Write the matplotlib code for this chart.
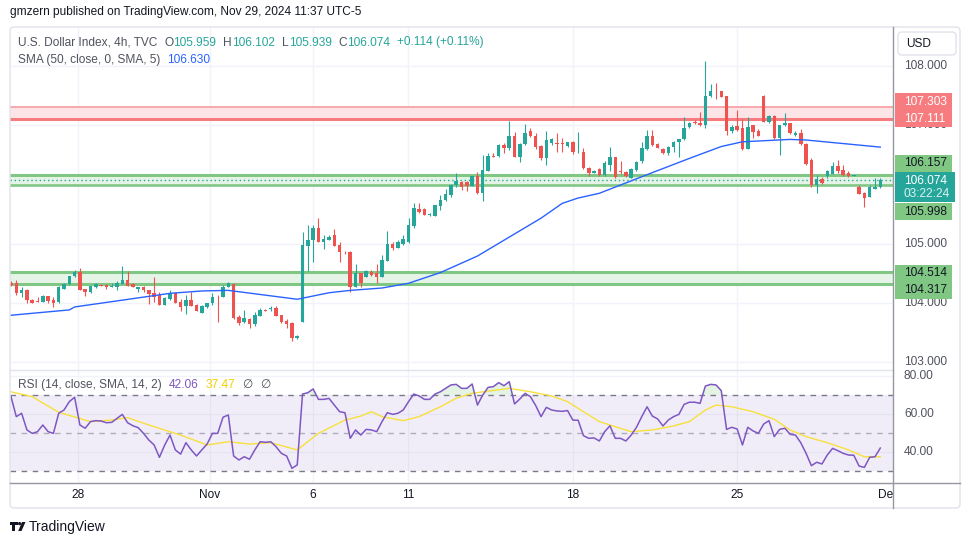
import matplotlib.pyplot as plt
import numpy as np
from matplotlib.patches import Rectangle, FancyBboxPatch, Polygon, Circle

plt.rcParams['font.family'] = ['Liberation Sans', 'DejaVu Sans']

# ---- 4h candles, U.S. Dollar Index ----
opens = [104.34, 104.33, 104.16, 104.22, 104.05, 104.03, 104.02, 104.12, 104.05, 104.01,
         104.24, 104.31, 104.45, 104.52, 104.23, 104.19, 104.26, 104.30, 104.30, 104.27,
         104.27, 104.32, 104.39, 104.32, 104.23, 104.27, 104.22, 104.17, 104.13, 103.97,
         104.06, 104.16, 104.02, 103.95, 104.05, 103.96, 103.83, 103.93, 103.99, 104.10,
         104.09, 104.26, 104.32, 103.76, 103.68, 103.73, 103.64, 103.78, 103.88, 103.89,
         103.92, 103.79, 103.70, 103.66, 103.40, 103.68, 104.96, 105.06, 105.27, 105.03,
         105.06, 105.15, 104.98, 104.86, 104.85, 104.27, 104.50, 104.43, 104.52, 104.50,
         104.44, 104.71, 105.00, 104.93, 104.99, 105.02, 105.30, 105.58, 105.58, 105.48,
         105.47, 105.63, 105.73, 105.82, 105.99, 106.04, 106.04, 105.98, 106.14, 105.85,
         106.23, 106.48, 106.48, 106.67, 106.62, 106.82, 106.46, 106.68, 106.90, 106.82,
         106.65, 106.44, 106.70, 106.70, 106.70, 106.65, 106.71, 106.54, 106.54, 106.27,
         106.20, 106.26, 106.16, 106.33, 106.46, 106.22, 106.21, 106.11, 106.24, 106.39,
         106.60, 106.82, 106.68, 106.60, 106.53, 106.64, 106.71, 106.76, 106.97, 107.06,
         107.04, 107.00, 107.49, 107.58, 107.57, 107.49, 106.91, 106.99, 106.95, 106.59,
         107.00, 106.91, 107.49, 107.06, 107.16, 106.78, 107.00, 107.03, 106.83, 106.86,
         106.69, 106.42, 105.99, 106.09, 106.14, 106.18, 106.31, 106.24, 106.20, 106.14,
         105.95, 105.86, 105.79, 105.93, 105.959]
highs = [104.36, 104.39, 104.26, 104.23, 104.06, 104.09, 104.13, 104.12, 104.09, 104.28,
         104.34, 104.46, 104.55, 104.58, 104.24, 104.28, 104.34, 104.31, 104.31, 104.34,
         104.36, 104.62, 104.54, 104.34, 104.27, 104.28, 104.22, 104.44, 104.19, 104.10,
         104.21, 104.18, 104.06, 104.13, 104.18, 103.98, 103.96, 104.00, 104.16, 104.13,
         104.30, 104.35, 104.33, 103.79, 103.88, 103.75, 103.85, 103.91, 103.89, 103.95,
         103.94, 103.80, 103.72, 103.67, 103.45, 105.20, 105.31, 105.31, 105.43, 105.15,
         105.14, 105.25, 105.03, 104.88, 104.88, 104.66, 104.51, 104.56, 104.55, 104.66,
         104.80, 105.21, 105.02, 105.06, 105.15, 105.43, 105.69, 105.69, 105.60, 105.51,
         105.66, 105.82, 105.92, 106.01, 106.19, 106.06, 106.06, 106.15, 106.21, 106.50,
         106.53, 106.53, 106.69, 106.70, 107.07, 106.89, 106.70, 107.02, 106.96, 106.86,
         106.67, 106.90, 106.78, 106.86, 106.78, 106.72, 106.73, 106.89, 106.61, 106.29,
         106.24, 106.27, 106.40, 106.64, 106.47, 106.39, 106.22, 106.27, 106.40, 106.72,
         106.92, 106.92, 106.70, 106.62, 106.65, 106.74, 106.77, 107.14, 107.05, 107.08,
         107.23, 108.08, 107.70, 107.72, 107.58, 107.49, 107.00, 107.26, 107.10, 107.14,
         107.01, 106.93, 107.51, 107.17, 107.17, 107.01, 107.20, 107.04, 106.90, 106.93,
         106.70, 106.44, 106.16, 106.13, 106.25, 106.38, 106.41, 106.32, 106.23, 106.16,
         105.99, 105.87, 105.99, 106.10, 106.102]
lows = [104.28, 104.13, 104.10, 104.00, 103.99, 104.01, 104.01, 103.99, 103.93, 103.99,
        104.24, 104.30, 104.44, 104.22, 104.12, 104.16, 104.25, 104.28, 104.23, 104.26,
        104.21, 104.31, 104.29, 104.26, 104.19, 104.19, 103.98, 104.02, 103.97, 103.96,
        104.05, 103.99, 103.86, 103.81, 103.94, 103.86, 103.83, 103.92, 103.97, 103.68,
        104.09, 104.26, 103.72, 103.63, 103.66, 103.57, 103.60, 103.78, 103.86, 103.86,
        103.78, 103.66, 103.57, 103.36, 103.39, 103.67, 104.53, 104.69, 105.02, 104.91,
        105.06, 104.96, 104.69, 104.83, 104.19, 104.26, 104.27, 104.43, 104.45, 104.33,
        104.44, 104.70, 104.90, 104.92, 104.98, 105.01, 105.26, 105.51, 105.48, 105.46,
        105.46, 105.57, 105.72, 105.79, 105.96, 105.91, 105.89, 105.97, 105.84, 105.72,
        106.23, 106.46, 106.46, 106.53, 106.58, 106.46, 106.38, 106.67, 106.80, 106.59,
        106.42, 106.33, 106.67, 106.55, 106.55, 106.64, 106.52, 106.53, 106.26, 106.14,
        106.19, 106.14, 106.14, 106.23, 106.10, 106.18, 106.13, 106.10, 106.22, 106.37,
        106.58, 106.65, 106.61, 106.51, 106.50, 106.55, 106.47, 106.75, 106.96, 107.02,
        106.99, 106.95, 107.48, 107.45, 107.47, 106.84, 106.86, 106.91, 106.58, 106.59,
        106.78, 106.81, 107.05, 107.04, 106.77, 106.50, 106.98, 106.85, 106.81, 106.66,
        106.33, 105.95, 105.86, 106.01, 106.10, 106.17, 106.20, 106.14, 106.13, 106.14,
        105.83, 105.62, 105.78, 105.92, 105.939]
closes = [104.30, 104.16, 104.22, 104.04, 104.00, 104.02, 104.12, 104.03, 104.00, 104.26,
          104.32, 104.45, 104.52, 104.22, 104.18, 104.28, 104.31, 104.29, 104.27, 104.29,
          104.34, 104.39, 104.29, 104.26, 104.27, 104.21, 104.15, 104.10, 103.97, 104.08,
          104.16, 104.00, 103.93, 104.05, 103.95, 103.87, 103.95, 103.99, 104.10, 104.09,
          104.27, 104.33, 103.74, 103.66, 103.74, 103.64, 103.79, 103.88, 103.87, 103.91,
          103.78, 103.68, 103.64, 103.40, 103.44, 104.97, 105.06, 105.27, 105.03, 105.08,
          105.12, 104.96, 104.85, 104.85, 104.27, 104.50, 104.33, 104.53, 104.47, 104.44,
          104.72, 104.99, 104.92, 105.02, 105.07, 105.31, 105.60, 105.54, 105.48, 105.49,
          105.65, 105.74, 105.84, 105.99, 106.05, 105.96, 105.98, 106.14, 105.85, 106.24,
          106.48, 106.47, 106.67, 106.61, 106.82, 106.46, 106.69, 106.86, 106.81, 106.64,
          106.44, 106.75, 106.76, 106.69, 106.68, 106.71, 106.54, 106.55, 106.27, 106.20,
          106.23, 106.16, 106.36, 106.46, 106.13, 106.21, 106.14, 106.26, 106.38, 106.61,
          106.82, 106.67, 106.62, 106.53, 106.64, 106.72, 106.76, 106.96, 107.03, 107.03,
          107.00, 107.49, 107.58, 107.57, 107.48, 106.91, 106.97, 106.92, 106.59, 106.97,
          106.89, 106.82, 107.06, 107.16, 106.78, 107.00, 107.04, 106.86, 106.86, 106.68,
          106.34, 105.99, 106.09, 106.02, 106.23, 106.31, 106.23, 106.16, 106.14, 106.15,
          105.84, 105.77, 105.95, 105.96, 106.074]

# SMA(50) line, read at a few candle positions
sma_idx = [0, 11, 12, 30, 36, 41, 54, 60, 64, 70, 75, 81, 88, 100, 104, 107, 111, 119, 128, 134, 138, 147, 150, 164]
sma_vals = [103.79, 103.88, 103.93, 104.16, 104.20, 104.21, 104.06, 104.17, 104.21, 104.25, 104.33, 104.51,
            104.79, 105.43, 105.68, 105.77, 105.85, 106.13, 106.44, 106.64, 106.72, 106.76, 106.75, 106.63]

# RSI(14), one value per candle
rsi = [69.1, 58.6, 60.4, 51.6, 49.8, 50.7, 54.2, 50.7, 49.8, 60.4,
       62.1, 66.5, 68.8, 54.2, 52.5, 56.0, 56.5, 56.3, 55.4, 55.6,
       57.7, 59.8, 55.4, 53.8, 52.8, 49.8, 46.3, 43.7, 37.2, 43.7,
       48.9, 41.1, 38.9, 44.9, 41.1, 37.9, 41.1, 44.2, 49.8, 49.8,
       58.3, 59.5, 37.9, 35.8, 37.5, 36.2, 41.1, 45.4, 45.1, 45.4,
       42.8, 39.3, 37.9, 31.4, 33.2, 70.5, 71.2, 73.2, 67.7, 67.7,
       68.2, 64.7, 61.2, 60.7, 47.2, 51.6, 48.9, 51.9, 51.6, 50.7,
       56.0, 60.7, 59.8, 60.4, 62.1, 66.5, 70.5, 69.5, 67.7, 67.7,
       70.5, 71.7, 73.5, 75.3, 75.6, 73.5, 73.5, 75.8, 64.7, 70.0,
       74.0, 74.4, 76.5, 74.9, 77.0, 65.3, 67.9, 70.9, 69.1, 64.4,
       58.6, 63.5, 62.1, 61.6, 61.4, 61.8, 56.8, 56.7, 48.6, 47.2,
       47.4, 45.8, 50.7, 53.8, 47.2, 47.2, 45.8, 48.9, 53.0, 58.6,
       63.8, 58.9, 57.4, 53.7, 56.8, 58.6, 59.8, 65.1, 66.2, 66.2,
       65.6, 74.7, 75.6, 75.3, 72.3, 51.9, 53.0, 52.1, 43.7, 53.0,
       51.1, 49.8, 54.7, 56.5, 48.1, 51.9, 52.5, 49.3, 48.9, 44.9,
       39.3, 32.8, 34.6, 33.7, 38.4, 41.9, 40.7, 39.3, 38.4, 38.3,
       32.6, 31.9, 37.2, 37.5, 42.06]

# RSI-based MA, read at a few candle positions
rsi_ma_idx = [0, 4, 9, 15, 19, 22, 26, 32, 37, 41, 45, 49, 54, 58, 63, 66, 68, 70, 74, 77, 81, 84,
              87, 94, 98, 102, 105, 108, 111, 114, 117, 121, 125, 128, 131, 133, 136, 140, 144,
              147, 150, 154, 158, 161, 164]
rsi_ma_vals = [71.7, 69.1, 60.9, 56.0, 56.8, 58.1, 54.2, 48.9, 43.7, 45.4, 44.2, 44.9, 41.1, 49.8,
               56.8, 58.9, 61.2, 58.6, 56.5, 58.6, 63.8, 68.3, 70.9, 73.5, 71.7, 69.5, 66.5, 61.2,
               56.0, 53.3, 50.7, 51.6, 53.7, 56.0, 62.1, 64.7, 63.8, 61.2, 57.2, 51.6, 48.1, 44.9,
               41.1, 37.5, 37.47]

date_ticks = [12.6, 37.5, 57.0, 74.9, 106.0, 137.0]
date_labels = ['28', 'Nov', '6', '11', '18', '25']
price_ticks = [108, 107, 106, 105, 104, 103]
price_labels = [108, 107, 105, 104, 103]   # 106.000 sits fully under the last-price tag
rsi_ticks = [80, 60, 40]

red_zone = (107.111, 107.303)
green_zone = (105.998, 106.157)
green_zone_low = (104.317, 104.514)
last_price = 106.074
change, change_pct = 0.114, 0.11
countdown = '03:22:24'
sma_last = 106.630
rsi_last, rsi_ma_last = 42.06, 37.47

UP, DOWN = '#26a69a', '#ef5350'
RED_LINE, GREEN_LINE = '#f77c80', '#81c784'
GRID = '#f0f3fa'
TXT = '#131722'
GRAY = '#50535e'
FS = 8.6

W, H = 970, 545
fig = plt.figure(figsize=(W / 100, H / 100), dpi=100)


def box(x0, y0, x1, y1):
    return [x0 / W, 1 - y1 / H, (x1 - x0) / W, (y1 - y0) / H]


ax = fig.add_axes(box(10, 27, 893, 370))
rax = fig.add_axes(box(10, 370, 893, 483), sharex=ax)
for a in (ax, rax):
    for s in a.spines.values():
        s.set_visible(False)
    a.tick_params(length=0, labelleft=False, labelbottom=False)
    a.set_yticks([])
ax.set_xticks([])

o, h, l, c = map(np.array, (opens, highs, lows, closes))
idx = np.arange(len(c))
ax.set_xlim(-0.19, 166.4)
ax.set_ylim(102.865, 108.659)
rax.set_ylim(23.68, 83.16)

# grid
for p in price_ticks:
    ax.axhline(p, color=GRID, lw=1, zorder=0)
for v in rsi_ticks:
    rax.axhline(v, color=GRID, lw=1, zorder=0)
for t in date_ticks:
    ax.axvline(t, color=GRID, lw=1, zorder=0)
    rax.axvline(t, color=GRID, lw=1, zorder=0)

# zones
ax.axhspan(*red_zone, color='#fde4e6', lw=0, zorder=1)
ax.axhline(red_zone[1], color='#f5a3a7', lw=1.3, zorder=2)
ax.axhline(red_zone[0], color=RED_LINE, lw=2.2, zorder=2)
ax.axhspan(*green_zone, color='#e5f4e6', lw=0, zorder=1)
ax.axhline(green_zone[1], color=GREEN_LINE, lw=2.2, zorder=2)
ax.axhline(green_zone[0], color=GREEN_LINE, lw=1.2, zorder=2)
ax.axhline(green_zone[0] - 0.03, color=GREEN_LINE, lw=1.2, zorder=2)
ax.axhspan(*green_zone_low, color='#e5f4e6', lw=0, zorder=1)
ax.axhline(green_zone_low[0], color=GREEN_LINE, lw=2.2, zorder=2)
ax.axhline(green_zone_low[1], color=GREEN_LINE, lw=2.2, zorder=2)
ax.axhline(last_price, color=UP, lw=1, ls=(0, (1, 2)), zorder=2)

# candles
col = np.where(c >= o, UP, DOWN)
ax.vlines(idx, l, h, colors=col, lw=0.8, zorder=3)
ax.bar(idx, np.maximum(np.abs(c - o), 0.012), bottom=np.minimum(o, c), width=0.66,
       color=col, lw=0, zorder=4)

ax.plot(sma_idx, sma_vals, color='#2962ff', lw=1, zorder=5)

# RSI panel
r = np.array(rsi)
rax.axhspan(30, 70, color='#7e57c2', alpha=0.1, lw=0, zorder=0)
rax.fill_between(idx, r, 70, where=r > 70, interpolate=True, color='#4caf50', alpha=0.15, lw=0)
for v, al in ((70, 1), (50, 0.55), (30, 1)):
    rax.axhline(v, color='#787b86', lw=1, ls=(0, (4, 4)), alpha=al, zorder=1)
rax.plot(rsi_ma_idx, rsi_ma_vals, color='#f7e03c', lw=1, zorder=2)
rax.plot(idx, r, color='#7e57c2', lw=1.1, zorder=3)

# overlay in pixel coordinates for texts and frames
ov = fig.add_axes([0, 0, 1, 1])
ov.set_xlim(0, W)
ov.set_ylim(H, 0)
ov.axis('off')
ov.patch.set_visible(False)
renderer = fig.canvas.get_renderer()


def py(v, a=ax):
    return H - a.transData.transform((0, v))[1]


def px(i, a=ax):
    return a.transData.transform((i, 0))[0]


def row(x, y, groups, gap=7):
    # groups of (text, colour) pieces; pieces in a group touch, groups are spaced by gap
    for g in groups:
        for s, colr in g:
            t = ov.text(x, y, s, fontsize=FS, color=colr, va='center',
                        family=['Liberation Sans', 'DejaVu Sans'])
            x += t.get_window_extent(renderer).width
        x += gap


ov.add_patch(FancyBboxPatch((10, 27), 950, 481, boxstyle='round,pad=0,rounding_size=4',
                            fc='none', ec='#e0e3eb', lw=1))
ov.plot([10, 893], [370, 370], color='#e0e3eb', lw=1)
ov.plot([10, 960], [483, 483], color='#9598a1', lw=1)
ov.plot([893, 893], [27, 508], color='#9598a1', lw=1)

ov.text(10, 12, 'gmzern published on TradingView.com, Nov 29, 2024 11:37 UTC-5',
        fontsize=FS, color=TXT, va='center')
row(18, 42.5, [[('U.S. Dollar Index, 4h, TVC', GRAY)],
               [('O', GRAY), (f'{opens[-1]:.3f}', UP)],
               [('H', GRAY), (f'{highs[-1]:.3f}', UP)],
               [('L', GRAY), (f'{lows[-1]:.3f}', UP)],
               [('C', GRAY), (f'{closes[-1]:.3f}', UP)],
               [(f'+{change:.3f} (+{change_pct:.2f}%)', UP)]])
row(18, 60, [[('SMA (50, close, 0, SMA, 5)', GRAY)], [(f'{sma_last:.3f}', '#2962ff')]])
row(18, 385, [[('RSI (14, close, SMA, 14, 2)', GRAY)], [(f'{rsi_last:.2f}', '#7e57c2')],
              [(f'{rsi_ma_last:.2f}', '#f5d000')], [('∅', GRAY)], [('∅', GRAY)]])

# price scale
ov.add_patch(FancyBboxPatch((898, 32), 58, 23, boxstyle='round,pad=0,rounding_size=4',
                            fc='white', ec='#e0e3eb', lw=1))
ov.text(906, 44, 'USD', fontsize=FS, color=TXT, va='center')
for p in price_labels:
    ov.text(904, py(p), f'{p:.3f}', fontsize=FS, color=GRAY, va='center')
for v in rsi_ticks:
    ov.text(904, py(v, rax), f'{v:.2f}', fontsize=FS, color=GRAY, va='center')

tags = [([red_zone[1], red_zone[0]], [-5.6, 0], RED_LINE, 'white'),
        ([green_zone[1]], [-11.8], GREEN_LINE, TXT),
        ([green_zone[0]], [27.2], GREEN_LINE, TXT),
        ([green_zone_low[1], green_zone_low[0]], [1, 6], GREEN_LINE, TXT)]
for vals, offs, fc, tc in tags:
    ys = [py(v) + d for v, d in zip(vals, offs)]
    ov.add_patch(Rectangle((895, ys[0] - 8.5), 57, ys[-1] - ys[0] + 17, fc=fc, ec='none', zorder=3))
    for v, yy in zip(vals, ys):
        ov.text(904, yy, f'{v:.3f}', fontsize=FS, color=tc, va='center', zorder=4)
yl = py(last_price)
ov.add_patch(Rectangle((895, yl - 8), 60, 30, fc=UP, ec='none', zorder=3))
ov.text(904, yl + 0.5, f'{last_price:.3f}', fontsize=FS, color='white', va='center', zorder=4)
ov.text(904, yl + 14, countdown, fontsize=FS, color='#d9f2ef', va='center', zorder=4)

# time scale
for t, lab in zip(date_ticks, date_labels):
    ov.text(px(t), 495, lab, fontsize=FS, color=TXT, ha='center', va='center')
ov.text(893, 495, 'De', fontsize=FS, color=TXT, ha='right', va='center')

# TradingView logo
ov.add_patch(Polygon([(10, 522), (18, 522), (18, 525), (15.5, 525), (15.5, 531), (12.5, 531),
                      (12.5, 525), (10, 525)], closed=True, fc=TXT, ec='none'))
ov.add_patch(Circle((19.6, 523.6), 1.6, fc=TXT, ec='none'))
ov.add_patch(Polygon([(22, 522), (25.5, 522), (21.5, 531), (18.2, 531)], closed=True, fc=TXT, ec='none'))
ov.text(29, 526.5, 'TradingView', fontsize=10, color=TXT, va='center')

fig.savefig('out.png', dpi=100, facecolor='white')
